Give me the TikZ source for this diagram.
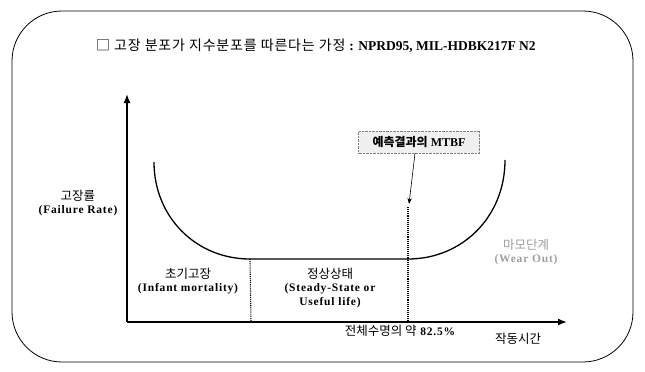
\documentclass[tikz,border=0pt]{standalone}
\usepackage{fontspec}
\setmainfont{Liberation Serif}
\newfontfamily\kr{Noto Sans CJK KR}
\newfontfamily\krwide[LetterSpace=6]{Noto Sans CJK KR}
\newfontfamily\wide[LetterSpace=7]{Liberation Serif}
\usetikzlibrary{arrows.meta}

\tikzset{
  axis/.style={line width=1.6pt,-{Latex[length=9pt,width=7pt]}},
  lbl/.style={align=center,font=\wide\fontsize{11.5}{13.5}\selectfont\bfseries,inner sep=1pt},
  divider/.style={densely dotted,line width=1.1pt},
}
\newcommand{\hanlbl}[1]{{\kr\mdseries\fontsize{12.5}{14}\selectfont #1}}

\begin{document}
\begin{tikzpicture}[x=1pt,y=-1pt]
    \useasboundingbox (0,0) rectangle (645,372);
    \draw[line width=0.8pt,rounded corners=50pt] (12,11) rectangle (633,362);
    \node[anchor=west,inner sep=0pt] (title) at (96,46)
      {{\krwide\fontsize{14}{16}\selectfont □ 고장 분포가 지수분포를 따른다는 가정 }\fontsize{13.5}{16}\selectfont\bfseries: NPRD95, MIL-HDBK217F N2};
    \coordinate (O) at (127,322);
    \coordinate (ytop) at (127,94);
    \coordinate (xend) at (567,322);
    \draw[axis] (O) -- (ytop);
    \draw[axis] (O) -- (xend);
    % bathtub curve
    \coordinate (c1) at (154,162);
    \coordinate (c2) at (250,259);
    \coordinate (c3) at (408,259);
    \coordinate (c4) at (505,160);
    \draw[line width=1.3pt] (c1) .. controls (154,217) and (196,259) .. (c2)
      -- (c3) .. controls (462,259) and (505,217) .. (c4);
    \coordinate (d1) at (251,322);
    \coordinate (d2) at (408,322);
    \draw[divider] (c2) -- (d1);
    \draw[divider] (408,207) -- (d2);
    % MTBF box
    \node[draw=gray,densely dotted,fill=gray!12,minimum width=121pt,minimum height=22pt,
      font=\fontsize{12}{14}\selectfont\bfseries] (mtbf) at (419,142)
      {{\kr 예측결과의} MTBF};
    \coordinate (mt) at (409,204);
    \draw[line width=0.6pt,-{Stealth[length=6pt,width=4.5pt]}] (mtbf.south) ++(-4,0) -- (mt);
    % labels
    \node[lbl] (rate) at (78,203) {\hanlbl{고장률}\\(Failure Rate)};
    \node[lbl] (infant) at (188,281) {\hanlbl{초기고장}\\(Infant mortality)};
    \node[lbl] (steady) at (330,288) {\hanlbl{정상상태}\\(Steady-State or\\Useful life)};
    \node[lbl,text=gray!75] (wear) at (526,252) {\hanlbl{마모단계}\\(Wear Out)};
    \node[lbl] (life) at (400,331) {\hanlbl{전체수명의 약} 82.5\%};
    \node[lbl] (time) at (518,339) {\hanlbl{작동시간}};
\end{tikzpicture}
\end{document}
